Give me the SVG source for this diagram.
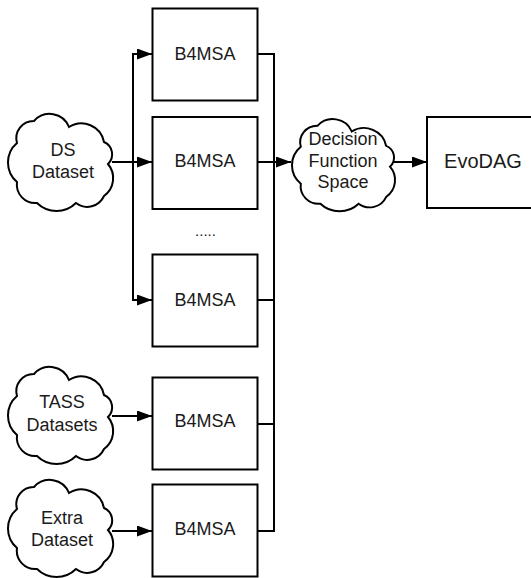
<svg xmlns="http://www.w3.org/2000/svg" width="531" height="578" viewBox="0 0 531 578">
<style>
.box{fill:#fff;stroke:#000;stroke-width:2}
.cl{fill:#fff;stroke:#000;stroke-width:2;stroke-linejoin:miter}
.ln{fill:none;stroke:#000;stroke-width:2}
text{font-family:"Liberation Sans",Arial,sans-serif;font-size:18px;fill:#1a1a1a;text-anchor:middle}
</style>
<defs>
<marker id="ah" markerUnits="userSpaceOnUse" markerWidth="16" markerHeight="11" refX="15" refY="5.5" orient="auto">
<path d="M0,0 L15,5.5 L0,11 z" fill="#000"/>
</marker>
<path id="cloud" d="M9,26 A17.3,17.3 0 0 1 26,4 A20.8,20.8 0 0 1 61,10 A23,23 0 0 1 96,25 A13.4,13.4 0 0 1 100,47 A22,22 0 0 1 96,79 A18.4,18.4 0 0 1 68,86 A27.8,27.8 0 0 1 29,86 A18.5,18.5 0 0 1 9,65 A25.6,25.6 0 0 1 9,26 Z"/>
</defs>
<rect width="531" height="578" fill="#fff"/>
<g id="connectors">
<path class="ln" d="M112,162 H152" marker-end="url(#ah)"/>
<path class="ln" d="M133,162 V54 H152" marker-end="url(#ah)"/>
<path class="ln" d="M133,162 V300 H152" marker-end="url(#ah)"/>
<path class="ln" d="M257,54 H274 V531 H257"/>
<path class="ln" d="M257,300 H274"/>
<path class="ln" d="M257,424 H274"/>
<path class="ln" d="M257,162 H291" marker-end="url(#ah)"/>
<path class="ln" d="M394,162 H427" marker-end="url(#ah)"/>
<path class="ln" d="M112,416 H152" marker-end="url(#ah)"/>
<path class="ln" d="M112,531 H152" marker-end="url(#ah)"/>
</g>
<g id="ds">
<use href="#cloud" class="cl" transform="translate(8,117)"/>
<text x="63" y="156">DS</text>
<text x="63" y="178">Dataset</text>
</g>
<g id="tass">
<use href="#cloud" class="cl" transform="translate(8,370)"/>
<text x="62" y="408">TASS</text>
<text x="62" y="431">Datasets</text>
</g>
<g id="extra">
<use href="#cloud" class="cl" transform="translate(8,483)"/>
<text x="62" y="524">Extra</text>
<text x="62" y="546">Dataset</text>
</g>
<g id="b1"><rect class="box" x="152.5" y="8.5" width="105" height="92"/><text x="205" y="60">B4MSA</text></g>
<g id="b2"><rect class="box" x="152.5" y="117" width="105" height="92"/><text x="205" y="167">B4MSA</text></g>
<g id="dots"><text x="205.5" y="236" style="font-size:15px">.....</text></g>
<g id="b3"><rect class="box" x="152.5" y="254.5" width="105" height="92"/><text x="205" y="306">B4MSA</text></g>
<g id="b4"><rect class="box" x="152.5" y="377.5" width="105" height="92"/><text x="205" y="427">B4MSA</text></g>
<g id="b5"><rect class="box" x="152.5" y="484.5" width="105" height="92"/><text x="205" y="535">B4MSA</text></g>
<g id="dfs">
<use href="#cloud" class="cl" transform="translate(292,122) scale(0.98,0.95)"/>
<text x="343" y="145">Decision</text>
<text x="343" y="167">Function</text>
<text x="343" y="188">Space</text>
</g>
<g id="evodag"><rect class="box" x="427" y="117" width="112" height="91"/><text x="483" y="168" style="font-size:20px">EvoDAG</text></g>
</svg>
